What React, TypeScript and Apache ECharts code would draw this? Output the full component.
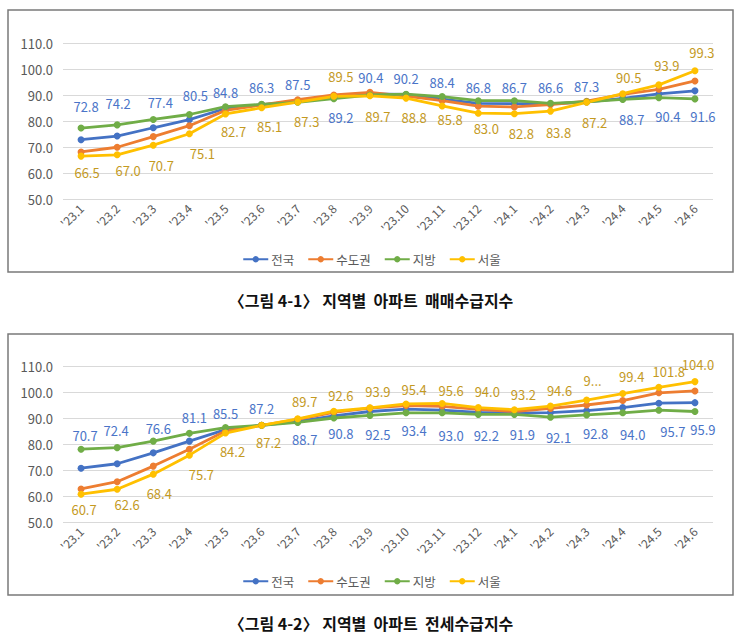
import React, { useEffect, useRef } from 'react';
import * as echarts from 'echarts';

// 월별 구분 (x축)
const months = [
  "'23.1", "'23.2", "'23.3", "'23.4", "'23.5", "'23.6", "'23.7", "'23.8", "'23.9",
  "'23.10", "'23.11", "'23.12", "'24.1", "'24.2", "'24.3", "'24.4", "'24.5", "'24.6",
];

const regionNames = ['전국', '수도권', '지방', '서울'];

// y축 범위
const yMin = 50;
const yMax = 110;
const yStep = 10;

// 〈그림 4-1〉 매매수급지수
const saleNational = [72.8, 74.2, 77.4, 80.5, 84.8, 86.3, 87.5, 89.2, 90.4, 90.2, 88.4, 86.8, 86.7, 86.6, 87.3, 88.7, 90.4, 91.6];
const saleCapital = [68.1, 69.9, 74.0, 78.2, 84.1, 86.2, 88.2, 90.0, 91.0, 89.6, 87.8, 85.7, 85.4, 86.3, 87.6, 90.2, 92.2, 95.4];
const saleRegional = [77.3, 78.5, 80.6, 82.5, 85.5, 86.4, 87.2, 88.6, 90.0, 90.3, 89.4, 87.8, 87.8, 86.8, 87.4, 88.3, 89.0, 88.5];
const saleSeoul = [66.5, 67.0, 70.7, 75.1, 82.7, 85.1, 87.3, 89.5, 89.7, 88.8, 85.8, 83.0, 82.8, 83.8, 87.2, 90.5, 93.9, 99.3];

// 〈그림 4-2〉 전세수급지수
const jeonseNational = [70.7, 72.4, 76.6, 81.1, 85.5, 87.2, 88.7, 90.8, 92.5, 93.4, 93.0, 92.2, 91.9, 92.1, 92.8, 94.0, 95.7, 95.9];
const jeonseCapital = [62.7, 65.5, 71.5, 78.0, 85.0, 87.2, 89.5, 92.2, 93.8, 94.8, 94.5, 93.3, 92.5, 93.7, 95.0, 96.7, 99.7, 100.4];
const jeonseRegional = [78.0, 78.6, 81.1, 84.1, 86.3, 87.2, 88.3, 90.0, 91.0, 92.0, 92.0, 91.4, 91.4, 90.3, 91.2, 92.0, 93.0, 92.5];
const jeonseSeoul = [60.7, 62.6, 68.4, 75.7, 84.2, 87.2, 89.7, 92.6, 93.9, 95.4, 95.6, 94.0, 93.2, 94.6, 96.9, 99.4, 101.8, 104.0];

// 데이터 레이블 위치 보정 [dx, dy] (px)
const saleNationalLabelPos = [
  [5, -33], [1, -33], [7, -25], [6, -24], [0, -16], [0, -17], [0, -17], [7, 20], [1, -16],
  [0, -16], [0, -17], [0, -16], [0, -16], [0, -16], [0, -16], [9, 21], [9, 23], [8, 26],
];
const saleSeoulLabelPos = [
  [6, 16], [11, 16], [8, 20], [13, 20], [8, 18], [8, 19], [9, 19], [7, -20], [8, 21],
  [8, 19], [8, 14], [8, 15], [7, 20], [8, 21], [8, 20], [6, -16], [8, -19], [7, -18],
];
const jeonseNationalLabelPos = [
  [4, -33], [-1, -33], [5, -24], [5, -24], [0, -16], [0, -17], [7, 18], [7, 18], [8, 23],
  [8, 21], [9, 25], [8, 23], [8, 21], [8, 25], [9, 23], [10, 27], [14, 28], [8, 27],
];
const jeonseSeoulLabelPos = [
  [3, 15], [10, 15], [6, 19], [12, 19], [7, 18], [7, 17], [7, -17], [7, -16], [8, -16],
  [8, -14], [9, -13], [9, -16], [9, -15], [9, -16], [6, -20], [9, -17], [10, -16], [3, -17],
];
// 공간이 좁아 잘려 보이는 레이블 (전세 서울 '24.3)
const jeonseSeoulClipped = [14];

const lineColors = ['#4472C4', '#ED7D31', '#70AD47', '#FFC000'];
const blueLabel = '#4a74c8';
const goldLabel = '#c49a1f';
const font = "'Noto Sans CJK KR', 'Noto Sans', sans-serif";

function labeledData(values: number[], pos: number[][], color: string, clipped: number[] = []) {
  return values.map((v, i) => {
    const item: any = {
      value: v,
      label: {
        show: true,
        position: 'inside',
        offset: pos[i],
        color,
        fontSize: 13,
        fontFamily: font,
        formatter: (p: any) => Number(p.value).toFixed(1),
      },
    };
    if (clipped.includes(i)) {
      item.label.width = 22;
      item.label.overflow = 'truncate';
      item.label.ellipsis = '...';
    }
    return item;
  });
}

function lineSeries(name: string, color: string, data: any[], idx: number) {
  return {
    name,
    type: 'line',
    xAxisIndex: idx,
    yAxisIndex: idx,
    data,
    symbol: 'circle',
    symbolSize: 7,
    lineStyle: { color, width: 2.8 },
    itemStyle: { color },
    label: { show: false },
    z: 2,
  };
}

export default function App() {
  const ref = useRef<HTMLDivElement>(null);

  useEffect(() => {
    if (!ref.current) return;
    const chart = echarts.init(ref.current, null, { renderer: 'svg' });

    const grids = [
      { left: 63, right: 30, top: 43, height: 156 },
      { left: 63, right: 30, top: 366, height: 156 },
    ];

    const xAxes = grids.map((_, i) => ({
      type: 'category',
      gridIndex: i,
      data: months,
      boundaryGap: true,
      axisLine: { show: false },
      axisTick: { show: false },
      axisLabel: {
        rotate: 45,
        color: '#595959',
        fontSize: 12,
        fontFamily: font,
        margin: 7,
        interval: 0,
      },
    }));

    const yAxes = grids.map((_, i) => ({
      type: 'value',
      gridIndex: i,
      min: yMin,
      max: yMax,
      interval: yStep,
      axisLine: { show: false },
      axisTick: { show: false },
      axisLabel: {
        color: '#595959',
        fontSize: 13,
        fontFamily: font,
        margin: 10,
        formatter: (v: number) => v.toFixed(1),
      },
      splitLine: { lineStyle: { color: '#d9d9d9', width: 1 } },
    }));

    const legendBase = {
      data: regionNames,
      left: 'center',
      itemWidth: 25,
      itemHeight: 8,
      itemGap: 13,
      textStyle: { color: '#595959', fontSize: 12.5, fontFamily: font, padding: [0, 0, 0, -2] },
    };

    const series = [
      lineSeries('전국', lineColors[0], labeledData(saleNational, saleNationalLabelPos, blueLabel), 0),
      lineSeries('수도권', lineColors[1], saleCapital, 0),
      lineSeries('지방', lineColors[2], saleRegional, 0),
      lineSeries('서울', lineColors[3], labeledData(saleSeoul, saleSeoulLabelPos, goldLabel), 0),
      lineSeries('전국', lineColors[0], labeledData(jeonseNational, jeonseNationalLabelPos, blueLabel), 1),
      lineSeries('수도권', lineColors[1], jeonseCapital, 1),
      lineSeries('지방', lineColors[2], jeonseRegional, 1),
      lineSeries('서울', lineColors[3], labeledData(jeonseSeoul, jeonseSeoulLabelPos, goldLabel, jeonseSeoulClipped), 1),
    ];

    chart.setOption({
      animation: false,
      backgroundColor: '#ffffff',
      grid: grids,
      xAxis: xAxes,
      yAxis: yAxes,
      legend: [
        { ...legendBase, top: 248 },
        { ...legendBase, top: 570 },
      ],
      series,
      graphic: [
        {
          type: 'rect',
          shape: { x: 8, y: 10, width: 725, height: 262 },
          style: { fill: 'none', stroke: '#7a7a7a', lineWidth: 1.5 },
          silent: true,
        },
        {
          type: 'rect',
          shape: { x: 8, y: 334, width: 725, height: 261 },
          style: { fill: 'none', stroke: '#7a7a7a', lineWidth: 1.5 },
          silent: true,
        },
        {
          type: 'text',
          x: 371,
          y: 300,
          style: {
            text: '〈그림 4-1〉 지역별  아파트  매매수급지수',
            font: `bold 16px ${font}`,
            fill: '#111111',
            align: 'center',
            verticalAlign: 'middle',
          },
        },
        {
          type: 'text',
          x: 371,
          y: 623,
          style: {
            text: '〈그림 4-2〉 지역별  아파트  전세수급지수',
            font: `bold 16px ${font}`,
            fill: '#111111',
            align: 'center',
            verticalAlign: 'middle',
          },
        },
      ],
    });

    return () => chart.dispose();
  }, []);

  return (
    <div
      ref={ref}
      style={{ position: 'absolute', left: 0, top: 0, width: 743, height: 639, background: '#fff' }}
    />
  );
}
